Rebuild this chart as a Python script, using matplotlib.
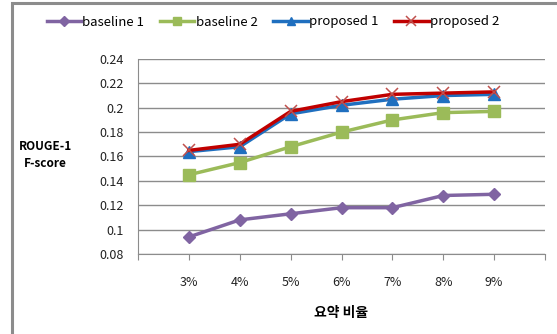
import matplotlib
matplotlib.use('Agg')
import matplotlib.pyplot as plt
from matplotlib.patches import Rectangle

plt.rcParams['font.family'] = ['Noto Sans CJK KR', 'DejaVu Sans']

# 데이터
ratios = ['3%', '4%', '5%', '6%', '7%', '8%', '9%']
baseline_1 = [0.094, 0.108, 0.113, 0.118, 0.118, 0.128, 0.129]
baseline_2 = [0.145, 0.155, 0.168, 0.180, 0.190, 0.196, 0.197]
proposed_1 = [0.164, 0.168, 0.195, 0.202, 0.207, 0.210, 0.211]
proposed_2 = [0.165, 0.170, 0.197, 0.205, 0.211, 0.212, 0.213]
y_ticks = [0.08, 0.1, 0.12, 0.14, 0.16, 0.18, 0.2, 0.22, 0.24]
y_tick_labels = ['0.08', '0.1', '0.12', '0.14', '0.16', '0.18', '0.2', '0.22', '0.24']

fig = plt.figure(figsize=(5.57, 3.34), dpi=100)
ax = fig.add_axes([0.2478, 0.2395, 0.7307, 0.5839])

# 바깥 테두리
fig.patches.append(Rectangle((12 / 557, -0.1), 1.2, (334 - 3) / 334 + 0.1,
                             transform=fig.transFigure, fill=False,
                             edgecolor='#8c8c8c', linewidth=2.2, zorder=0))

x = list(range(len(ratios)))
ax.plot(x, baseline_1, color='#8064a2', lw=2.5, marker='D', ms=6, label='baseline 1')
ax.plot(x, baseline_2, color='#9bbb59', lw=2.5, marker='s', ms=8, label='baseline 2')
ax.plot(x, proposed_1, color='#1f6fbf', lw=2.5, marker='^', ms=8, label='proposed 1')
ax.plot(x, proposed_2, color='#c00000', lw=2.5, marker='x', ms=9, mew=1.1,
        mec='#c0504d', label='proposed 2')

ax.set_xlim(-1, len(ratios))
ax.set_ylim(0.08, 0.24)
ax.set_xticks(range(-1, len(ratios) + 1))
ax.set_xticklabels([''] + ratios + [''])
ax.set_yticks(y_ticks)
ax.set_yticklabels(y_tick_labels)
ax.yaxis.grid(True, color='#8c8c8c', lw=1)
ax.set_axisbelow(True)
for s in ['top', 'right']:
    ax.spines[s].set_visible(False)
for s in ['left', 'bottom']:
    ax.spines[s].set_color('#8c8c8c')
ax.tick_params(axis='y', length=0, pad=10, labelsize=9, colors='#222222')
ax.tick_params(axis='x', length=4, color='#8c8c8c', pad=12, labelsize=9, labelcolor='#222222')

fig.text(45 / 557, 1 - 155 / 334, 'ROUGE-1\nF-score', ha='center', va='center',
         fontsize=8.5, fontweight='bold', linespacing=1.4)
ax.set_xlabel('요약 비율', fontsize=10, fontweight='bold', labelpad=12)

fig.legend(loc='center', bbox_to_anchor=(273 / 557, 1 - 22 / 334), ncol=4,
           frameon=False, fontsize=9.5, handlelength=2.6, handletextpad=0.1,
           columnspacing=1.2, markerscale=0.8)

fig.savefig('out.png', dpi=100)
